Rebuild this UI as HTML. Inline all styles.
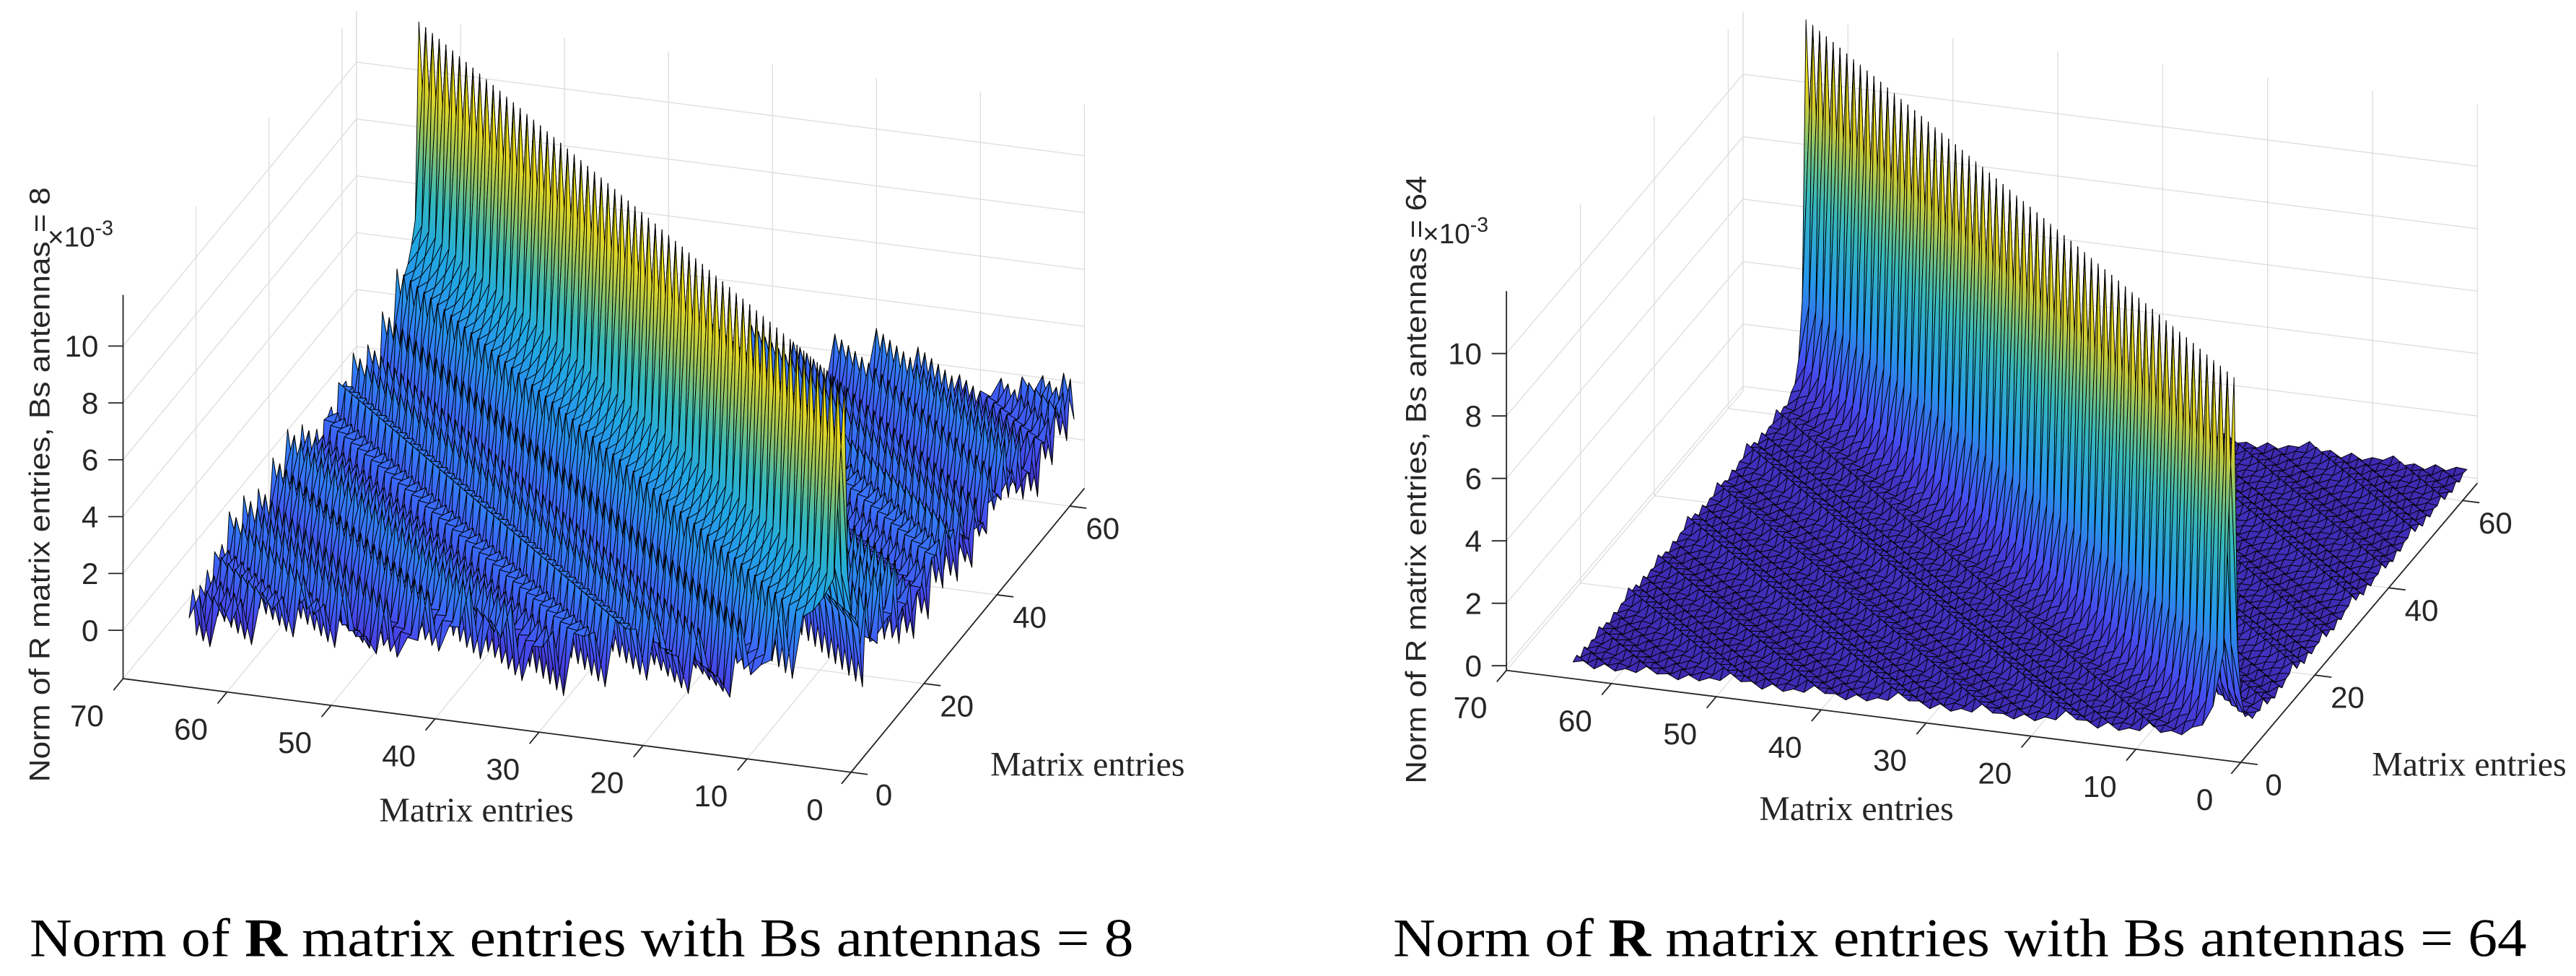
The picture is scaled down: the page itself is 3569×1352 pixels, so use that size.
<!DOCTYPE html>
<html>
<head>
<meta charset="utf-8">
<style>
html,body{margin:0;padding:0;background:#fff;}
svg{display:block;}
</style>
</head>
<body>
<svg id="fig" xmlns="http://www.w3.org/2000/svg" width="3569" height="1352" viewBox="0 0 1568 594">
<defs id="defs"></defs>
<rect x="0" y="0" width="1568" height="594" fill="#fff"/>
<g id="left-chart"></g>
<g id="right-chart"></g>
<text x="18" y="582" font-family="Liberation Serif, serif" font-size="33" textLength="672" lengthAdjust="spacingAndGlyphs" fill="#000">Norm of <tspan font-weight="bold">R</tspan> matrix entries with Bs antennas = 8</text>
<text x="848" y="582" font-family="Liberation Serif, serif" font-size="33" textLength="690" lengthAdjust="spacingAndGlyphs" fill="#000">Norm of <tspan font-weight="bold">R</tspan> matrix entries with Bs antennas = 64</text>
</svg>
<script>
// ---- data (values x 10^-3), indexed by distance from diagonal |i-j| ----
const profileLeft = [11.7,5.6,3.2,4.0,2.3,1.4,3.1,2.2,
0.9,1.7,2.7,1.3,0.6,2.0,2.4,1.0,
0.7,2.2,1.9,0.8,1.1,2.4,1.6,0.5,
1.3,2.3,1.4,0.6,1.5,2.1,1.0,0.7,
1.8,2.0,0.9,0.8,1.9,1.7,0.6,1.0,
2.0,1.4,0.5,1.2,1.9,1.1,0.6,1.5,
1.8,0.9,0.7,1.6,1.5,0.6,0.9,1.7,
1.2,0.5,1.1,1.6,1.0,0.6,1.3,1.4];
const rippleLeft = [0.6,-0.8,0.3,-0.4,0.9,-0.6,0.1,-0.9,0.5,-0.2,0.8,-0.7,0.2,-0.5,0.7,-0.3];
const profileRight = [12.0,3.2,1.3,0.8,0.55,0.45,0.4,0.45,
0.6,0.4,0.3,0.3,0.35,0.3,0.3,0.45,
0.55,0.35,0.28,0.26,0.3,0.28,0.27,0.4,
0.5,0.32,0.25,0.24,0.27,0.25,0.25,0.38,
0.45,0.3,0.22,0.22,0.25,0.22,0.23,0.35,
0.42,0.28,0.2,0.2,0.23,0.2,0.21,0.32,
0.4,0.26,0.19,0.19,0.21,0.19,0.2,0.3,
0.36,0.24,0.18,0.18,0.2,0.18,0.19,0.28];
const rippleRight = [0.9,-0.7,0.4,-1.0,0.6,-0.3,1.0,-0.6,0.2,-0.9,0.7,-0.4,0.8,-0.8,0.3,-0.5];
const xTicks = [0,10,20,30,40,50,60,70];
const yTicks = [0,20,40,60];
const zTicks = [0,2,4,6,8,10];

const NS = "http://www.w3.org/2000/svg";
const defs = document.getElementById('defs');
let gradId = 0;
const parulaStops = [[62,38,168],[71,71,235],[56,112,250],[40,145,238],[32,168,225],[38,182,205],[70,190,170],[150,195,95],[222,204,40],[246,232,25],[249,251,14]];
function parula(t){
  t = Math.max(0, Math.min(1, t));
  const s = t * (parulaStops.length - 1);
  const k = Math.min(parulaStops.length - 2, Math.floor(s));
  const f = s - k;
  const a = parulaStops[k], b = parulaStops[k + 1];
  return 'rgb(' + a.map((v, n) => Math.round(v + (b[n] - v) * f)).join(',') + ')';
}
function mk(tag, attrs, parent){
  const el = document.createElementNS(NS, tag);
  for (const k in attrs) el.setAttribute(k, attrs[k]);
  parent.appendChild(el);
  return el;
}

function buildChart(g, cfg, profile, ripple, amp, zLabelText, zLabelLen){
  const P = (x, y, z) => [cfg.ox + x * cfg.ex[0] + y * cfg.ey[0], cfg.oy + x * cfg.ex[1] + y * cfg.ey[1] - (z - cfg.zmin) * cfg.kz];
  const line = (a, b, color, w, name) => {
    const el = mk('line', {x1: a[0].toFixed(2), y1: a[1].toFixed(2), x2: b[0].toFixed(2), y2: b[1].toFixed(2), stroke: color, 'stroke-width': w}, g);
    
    
    return el;
  };
  const grid = '#dedede', gw = 0.6;
  const X = cfg.xmax, Y = cfg.ymax, Z0 = cfg.zmin, Z1 = cfg.zmax;
  xTicks.forEach(t => line(P(t, 0, Z0), P(t, Y, Z0), grid, gw, 'floor-gridline'));
  yTicks.forEach(t => line(P(0, t, Z0), P(X, t, Z0), grid, gw, 'floor-gridline'));
  xTicks.forEach(t => line(P(t, Y, Z0), P(t, Y, Z1), grid, gw, 'back-wall-gridline'));
  zTicks.forEach(t => line(P(0, Y, t), P(X, Y, t), grid, gw, 'back-wall-gridline'));
  yTicks.concat([Y]).forEach(t => line(P(X, t, Z0), P(X, t, Z1), grid, gw, 'side-wall-gridline'));
  zTicks.forEach(t => line(P(X, 0, t), P(X, Y, t), grid, gw, 'side-wall-gridline'));

  const N = 64;
  const Zv = [];
  let zlo = Infinity, zhi = -Infinity;
  for (let i = 1; i <= N; i++){
    Zv[i] = [];
    for (let j = 1; j <= N; j++){
      const d = Math.abs(i - j);
      const v = profile[d] + (d > 0 ? ripple[(i * 5 + j * 11) % ripple.length] * amp : 0);
      Zv[i][j] = v;
      zlo = Math.min(zlo, v); zhi = Math.max(zhi, v);
    }
  }
  const cmap = v => parula((v - zlo) / (zhi - zlo));
  const quads = [];
  for (let i = 1; i < N; i++) for (let j = 1; j < N; j++) quads.push([i, j, (i + 0.5) + 2.85 * (j + 0.5)]);
  quads.sort((a, b) => b[2] - a[2]);
  const sg = mk('g', {}, g);
  
  
  quads.forEach(q => {
    const i = q[0], j = q[1];
    const c = [[i, j], [i + 1, j], [i + 1, j + 1], [i, j + 1]];
    const zs = c.map(p => Zv[p[0]][p[1]]);
    const pts = c.map((p, n) => P(p[0], p[1], zs[n]));
    let fill;
    const zmaxq = Math.max(...zs), zminq = Math.min(...zs);
    if (zmaxq - zminq > 1.5){
      const hi = pts[zs.indexOf(zmaxq)], lo = pts[zs.indexOf(zminq)];
      const id = 'gr' + (gradId++);
      const lg = mk('linearGradient', {id: id, gradientUnits: 'userSpaceOnUse', x1: hi[0].toFixed(2), y1: hi[1].toFixed(2), x2: lo[0].toFixed(2), y2: lo[1].toFixed(2)}, defs);
      for (let s = 0; s <= 4; s++){
        const v = zmaxq + (zminq - zmaxq) * s / 4;
        mk('stop', {offset: (s / 4), 'stop-color': cmap(v)}, lg);
      }
      fill = 'url(#' + id + ')';
    } else {
      fill = cmap(zs.reduce((a, b) => a + b, 0) / 4);
    }
    const poly = mk('polygon', {points: pts.map(p => p[0].toFixed(2) + ',' + p[1].toFixed(2)).join(' '), fill: fill, stroke: '#000', 'stroke-width': 0.42, 'stroke-linejoin': 'round'}, sg);
    
    
  });

  const ax = '#262626', aw = 0.8;
  line(P(0, 0, Z0), P(X, 0, Z0), ax, aw, 'x-axis-line');
  line(P(0, 0, Z0), P(0, Y, Z0), ax, aw, 'y-axis-line');
  line(P(X, 0, Z0), P(X, 0, Z1), ax, aw, 'z-axis-line');
  const txt = (x, y, s, anchor, name, size, fam) => {
    const t = mk('text', {x: x.toFixed(2), y: y.toFixed(2), 'text-anchor': anchor, 'font-family': fam || 'Liberation Sans, sans-serif', 'font-size': size || 18.5, fill: '#262626'}, g);
    t.textContent = s;
    
    
    return t;
  };
  xTicks.forEach(t => {
    const a = P(t, 0, Z0), b = P(t, -2.6, Z0);
    line(a, b, ax, aw, 'x-tick');
    txt(a[0] - 22, a[1] + 29, String(t), 'middle', 'x-tick-label');
  });
  yTicks.forEach(t => {
    const a = P(0, t, Z0), b = P(-1.6, t, Z0);
    line(a, b, ax, aw, 'y-tick');
    txt(a[0] + 20, a[1] + 20, String(t), 'middle', 'y-tick-label');
  });
  zTicks.forEach(t => {
    const a = P(X, 0, t);
    line(a, [a[0] - 9, a[1]], ax, aw, 'z-tick');
    txt(a[0] - 15, a[1] + 6.5, String(t), 'end', 'z-tick-label');
  });
  const zl = mk('text', {x: 0, y: 0, transform: 'translate(' + cfg.zlx + ',' + cfg.zly + ') rotate(-90)', 'text-anchor': 'middle', 'font-family': 'Liberation Sans, sans-serif', 'font-size': 17.5, fill: '#262626', textLength: zLabelLen, lengthAdjust: 'spacingAndGlyphs'}, g);
  zl.textContent = zLabelText;
  
  
  const ex = mk('text', {x: cfg.exx, y: cfg.exy, 'font-family': 'Liberation Sans, sans-serif', 'font-size': 17, fill: '#262626'}, g);
  ex.innerHTML = '×10<tspan dy="-7" font-size="12.5">-3</tspan>';
  
  
  txt(cfg.xlx, cfg.xly, 'Matrix entries', 'middle', 'x-axis-title', 21, 'Liberation Serif, serif');
  txt(cfg.ylx, cfg.yly, 'Matrix entries', 'middle', 'y-axis-title', 21, 'Liberation Serif, serif');
}

buildChart(document.getElementById('left-chart'),
  {ox: 518, oy: 470, ex: [-6.33, -0.814], ey: [2.22, -2.70], kz: 17.3, zmin: -1.7, zmax: 11.8, xmax: 70, ymax: 64,
   zlx: 30, zly: 295, exx: 29, exy: 150, xlx: 290, xly: 500, ylx: 662, yly: 472},
  profileLeft, rippleLeft, 1.2, 'Norm of R matrix entries,  Bs antennas = 8', 362);
buildChart(document.getElementById('right-chart'),
  {ox: 1364, oy: 464, ex: [-6.386, -0.8], ey: [2.25, -2.656], kz: 19, zmin: -0.15, zmax: 12, xmax: 70, ymax: 64,
   zlx: 868, zly: 292, exx: 866, exy: 148, xlx: 1130, xly: 499, ylx: 1503, yly: 472},
  profileRight, rippleRight, 0.12, 'Norm of R matrix entries,  Bs antennas = 64', 370);
</script>
</body>
</html>
